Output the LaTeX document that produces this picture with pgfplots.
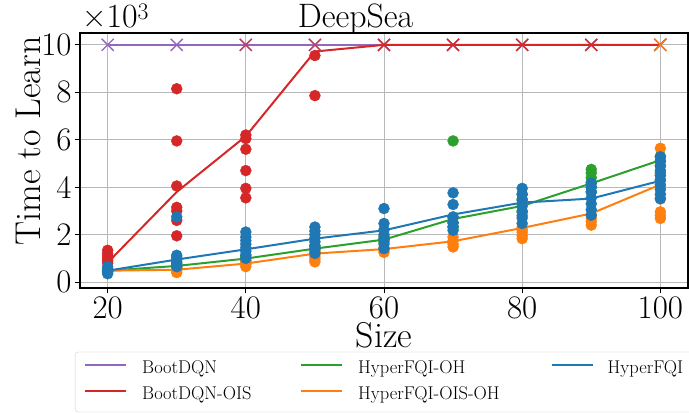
\documentclass[border=0pt]{standalone}
\usepackage{fontspec}
\usepackage{pgfplots}
\pgfplotsset{compat=1.18}
\definecolor{tpurple}{HTML}{9467BD}
\definecolor{tred}{HTML}{D62728}
\definecolor{tgreen}{HTML}{2CA02C}
\definecolor{torange}{HTML}{FF7F0E}
\definecolor{tblue}{HTML}{1F77B4}
\newcommand{\tickfnt}{\fontsize{33}{38}\selectfont}
\newcommand{\labfnt}{\fontsize{36}{42}\selectfont}
\begin{document}
\begin{tikzpicture}
\path[use as bounding box] (-80bp,-125bp) rectangle (609bp,288bp);
\begin{axis}[
  scale only axis, width=608bp, height=255bp,
  at={(0,0)}, anchor=south west,
  xmin=16, xmax=104, ymin=-250, ymax=10500,
  xtick={20,40,...,100}, ytick={0,2000,4000,6000,8000,10000},
  yticklabels={0,2,4,6,8,10}, scaled y ticks=false,
  /pgf/number format/assume math mode=true,
  tick label style={font=\tickfnt},
  grid=major, major grid style={color=black!28, line width=0.9bp},
  tick align=outside, tick pos=left, major tick length=5bp,
  tick style={black, line width=0.9bp},
  axis line style={line width=1.2bp},
  legend columns=3,
  legend cell align=left,
  legend style={at={(-0.00822,-0.250)}, anchor=north west, draw=black!20, rounded corners=3bp,
    font=\fontsize{18.5}{22}\selectfont, inner xsep=8.5bp, inner ysep=4bp,
    nodes={inner sep=0pt, text height=18bp, text depth=8bp}, /tikz/column sep=0bp, /tikz/row sep=0bp},
  legend image code/.code={\draw[#1] (0bp,0.35em) -- (41bp,0.35em);},
]
% legend
\addlegendimage{tpurple, line width=2bp}
\addlegendentry{\makebox[173bp][l]{\hspace{15.5bp}BootDQN}}
\addlegendimage{tgreen, line width=2bp}
\addlegendentry{\makebox[208bp][l]{\hspace{15.5bp}HyperFQI-OH}}
\addlegendimage{tblue, line width=2bp}
\addlegendentry{\makebox[110bp][l]{\hspace{14bp}HyperFQI}}
\addlegendimage{tred, line width=2bp}
\addlegendentry{\makebox[173bp][l]{\hspace{15.5bp}BootDQN-OIS}}
\addlegendimage{torange, line width=2bp}
\addlegendentry{\makebox[208bp][l]{\hspace{15.5bp}HyperFQI-OIS-OH}}

% BootDQN
\addplot[tpurple, line width=2bp, mark=x, mark size=8.5bp, mark options={line width=1.4bp}, forget plot]
  coordinates {(20,10000) (30,10000) (40,10000) (50,10000) (60,10000) (70,10000) (80,10000) (90,10000) (100,10000)};

% BootDQN-OIS
\addplot[only marks, mark=*, mark size=5.5bp, tred, forget plot] coordinates {
 (20,800) (20,900) (20,1000) (20,1100) (20,1200) (20,1340)
 (30,1950) (30,2600) (30,3000) (30,3150) (30,4050) (30,5950) (30,8150)
 (40,3550) (40,3950) (40,4700) (40,5600) (40,6050) (40,6200)
 (50,7860) (50,9550)};
\addplot[tred, line width=2bp, forget plot]
  coordinates {(20,820) (30,3800) (40,6150) (50,9720) (60,10000) (70,10000) (80,10000) (90,10000) (100,10000)};
\addplot[only marks, tred, opacity=0.6, mark=x, mark size=8.5bp, mark options={line width=1.4bp}, forget plot]
  coordinates {(40,10000) (50,10000)};
\addplot[only marks, tred, mark=x, mark size=8.5bp, mark options={line width=1.4bp}, forget plot]
  coordinates {(60,10000) (70,10000) (80,10000) (90,10000) (100,10000)};

% HyperFQI-OH
\addplot[only marks, mark=*, mark size=5.5bp, tgreen, forget plot] coordinates {
 (20,450) (20,550)
 (30,600) (30,700) (30,800)
 (40,900) (40,1000) (40,1100)
 (50,1300) (50,1400) (50,1500)
 (60,1700) (60,1800) (60,1900)
 (70,2300) (70,2500) (70,2700) (70,5950)
 (80,2800) (80,3000) (80,3300) (80,3500) (80,3700)
 (90,3800) (90,4000) (90,4200) (90,4400) (90,4600) (90,4750)
 (100,4300) (100,4600) (100,4900) (100,5100) (100,5300)};
\addplot[tgreen, line width=2bp, forget plot]
  coordinates {(20,480) (30,680) (40,990) (50,1410) (60,1790) (70,2660) (80,3210) (90,4160) (100,5140)};

% HyperFQI-OIS-OH
\addplot[only marks, mark=*, mark size=5.5bp, torange, forget plot] coordinates {
 (20,400) (20,500)
 (30,400) (30,480) (30,550) (30,620)
 (40,650) (40,750) (40,850)
 (50,850) (50,950) (50,1050) (50,1150)
 (60,1250) (60,1350) (60,1450)
 (70,1480) (70,1600) (70,1750) (70,1900)
 (80,1830) (80,1950) (80,2100) (80,2200) (80,2320)
 (90,2400) (90,2550) (90,2700) (90,2820)
 (100,2680) (100,2800) (100,2960) (100,3500) (100,4000) (100,4500) (100,5640)};
\addplot[torange, line width=2bp, forget plot]
  coordinates {(20,480) (30,520) (40,780) (50,1200) (60,1390) (70,1720) (80,2280) (90,2890) (100,4110)};
\addplot[only marks, torange, mark=x, mark size=8.5bp, mark options={line width=1.4bp}, forget plot]
  coordinates {(100,10000)};

% HyperFQI
\addplot[only marks, mark=*, mark size=5.5bp, tblue, forget plot] coordinates {
 (20,350) (20,450) (20,500) (20,550) (20,650)
 (30,650) (30,750) (30,850) (30,950) (30,1050) (30,1130) (30,2750)
 (40,1000) (40,1150) (40,1300) (40,1450) (40,1600) (40,1750) (40,1900) (40,2110)
 (50,1210) (50,1400) (50,1550) (50,1700) (50,1850) (50,2000) (50,2150) (50,2320)
 (60,1410) (60,1600) (60,1800) (60,2000) (60,2200) (60,2470) (60,3100)
 (70,2180) (70,2350) (70,2500) (70,2750) (70,3270) (70,3760)
 (80,2470) (80,2700) (80,2950) (80,3200) (80,3450) (80,3700) (80,3950)
 (90,2820) (90,3050) (90,3300) (90,3550) (90,3800) (90,4000) (90,4170)
 (100,3520) (100,3700) (100,3900) (100,4100) (100,4300) (100,4500) (100,4700) (100,4900) (100,5100) (100,5280)};
\addplot[tblue, line width=2bp, forget plot]
  coordinates {(20,480) (30,950) (40,1380) (50,1830) (60,2180) (70,2850) (80,3350) (90,3520) (100,4270)};
\end{axis}
\node[anchor=base, font=\fontsize{34}{40}\selectfont, inner sep=0pt] at (275.5bp,260bp) {DeepSea};
\node[anchor=base west, font=\fontsize{34}{40}\selectfont, inner sep=0pt] at (2bp,260bp) {×10\textsuperscript{3}};
\node[rotate=90, font=\labfnt, inner sep=0pt] at (-52bp,147bp) {Time to Learn};
\node[anchor=base, font=\labfnt, inner sep=0pt] at (304bp,-59bp) {Size};
\end{tikzpicture}
\end{document}
